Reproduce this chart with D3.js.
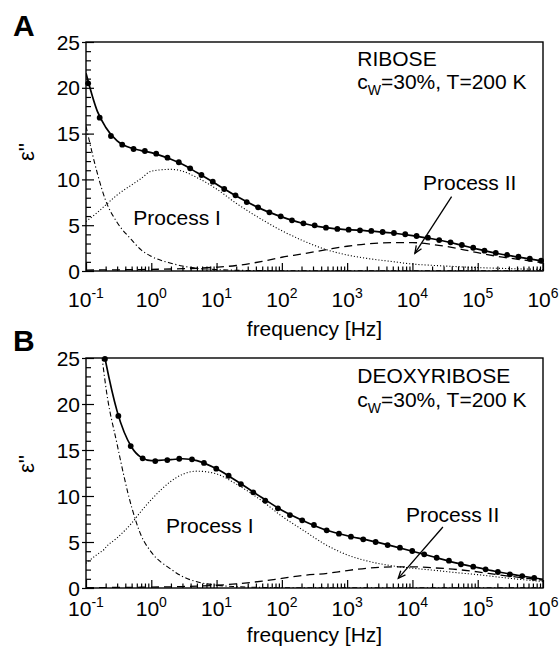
<!DOCTYPE html>
<html>
<head>
<meta charset="utf-8">
<script src="https://cdn.jsdelivr.net/npm/d3@7/dist/d3.min.js"></script>
<style>
  body { margin: 0; background: #fff; }
  text { font-family: "Liberation Sans", Arial, sans-serif; fill: #000; }
</style>
</head>
<body>
<svg id="canvas" width="559" height="654"></svg>
<script>
// ---- values ----

// panel A (ribose)
let gridA = [0.1, 0.15, 0.2, 0.3, 0.5, 0.7, 1, 2, 3, 5, 10, 20, 50, 100, 200, 500, 1e3, 2e3, 5e3, 1e4, 2e4, 5e4, 1e5, 2e5, 5e5, 1e6]
let fitA = [21.6, 17.4, 15.7, 14.2, 13.4, 13.15, 12.93, 12.2, 11.65, 10.75, 9.48, 8.18, 6.73, 5.91, 5.24, 4.7, 4.52, 4.39, 4.15, 3.87, 3.52, 2.91, 2.38, 1.91, 1.43, 1.07]
let condA = [15.8, 10.6, 7.7, 5.3, 3.4, 2.3, 1.6, 0.85, 0.55, 0.3, 0.15, 0.08, 0.04, 0.02, 0.01, 0.01, 0.01, 0.01, 0.01, 0.01, 0.01, 0.01, 0.01, 0.01, 0.01, 0.01]
let procIA = [5.4, 6.4, 7.2, 8.3, 9.4, 10.1, 10.9, 11.1, 10.9, 10.2, 8.95, 7.39, 5.6, 4.4, 3.38, 2.29, 1.75, 1.38, 1.02, 0.76, 0.62, 0.47, 0.37, 0.3, 0.22, 0.17]
let procIIA = [0.1, 0.11, 0.12, 0.13, 0.15, 0.16, 0.18, 0.22, 0.25, 0.3, 0.42, 0.6, 1.05, 1.5, 1.85, 2.35, 2.7, 2.95, 3.1, 3.1, 2.9, 2.45, 2.0, 1.6, 1.2, 0.9]
let dotFreqA = [0.108, 0.162, 0.241, 0.359, 0.535, 0.798, 1.19, 1.77, 2.64, 3.94,
  5.87, 8.75, 13.1, 19.5, 29.0, 43.3, 64.5, 96.1, 143, 214,
  318, 474, 708, 1055, 1573, 2344, 3493, 5207, 7762, 11580,
  17260, 25700, 38370, 57150, 85310, 127000, 189200, 282500, 420700, 628100, 935400]
let dotValA = [20.49, 16.74, 14.74, 13.79, 13.32, 13.10, 12.81, 12.37, 11.87, 11.21,
  10.48, 9.75, 8.95, 8.26, 7.53, 6.95, 6.41, 5.97, 5.53, 5.21,
  4.99, 4.73, 4.59, 4.51, 4.44, 4.37, 4.26, 4.15, 4.01, 3.82,
  3.64, 3.38, 3.13, 2.84, 2.54, 2.22, 1.97, 1.75, 1.56, 1.34, 1.12]

// panel B (deoxyribose)
let gridB = [0.1, 0.15, 0.175, 0.19, 0.2, 0.3, 0.5, 0.7, 1, 2, 3, 5, 10, 20, 50, 100, 200, 500, 1e3, 2e3, 5e3, 1e4, 2e4, 5e4, 1e5, 2e5, 5e5, 1e6]
let fitB = [null, null, null, 25.4, 24.6, 19.2, 15.3, 14.2, 13.85, 13.95, 14.05, 13.85, 12.95, 11.65, 9.8, 8.45, 7.4, 6.25, 5.68, 5.23, 4.55, 4.0, 3.42, 2.67, 2.22, 1.77, 1.28, 0.95]
let condB = [null, null, 25.2, 23.2, 22.0, 15.6, 8.8, 5.7, 3.9, 2.05, 1.25, 0.68, 0.3, 0.15, 0.06, 0.03, 0.02, 0.01, 0.01, 0.01, 0.01, 0.01, 0.01, 0.01, 0.01, 0.01, 0.01, 0.01]
let procIB = [2.68, 3.67, 4.0, 4.2, 4.4, 5.45, 7.05, 8.35, 9.6, 11.6, 12.35, 12.7, 12.4, 11.3, 9.45, 7.8, 6.4, 4.6, 3.6, 2.95, 2.4, 2.15, 1.95, 1.65, 1.45, 1.2, 0.9, 0.7]
let procIIB = [0.05, 0.05, 0.05, 0.05, 0.05, 0.06, 0.07, 0.08, 0.1, 0.13, 0.16, 0.2, 0.3, 0.45, 0.75, 1.05, 1.35, 1.6, 1.9, 2.15, 2.3, 2.3, 2.2, 2.0, 1.75, 1.45, 1.1, 0.85]
let dotFreqB = [0.195, 0.313, 0.484, 0.738, 1.15, 1.76, 2.68, 4.2, 6.41, 9.89,
  15.3, 23.6, 36.5, 55.7, 87.1, 133, 205, 310, 486, 749,
  1143, 1765, 2731, 4169, 6438, 9935, 15170, 23500, 36250, 55340,
  85370, 132100, 203700, 311300, 480100, 733100]
let dotValB = [24.9, 18.7, 15.43, 14.09, 13.8, 13.91, 14.05, 13.99, 13.59, 12.97,
  12.2, 11.3, 10.4, 9.49, 8.66, 7.93, 7.36, 6.85, 6.27, 5.9,
  5.58, 5.29, 5.0, 4.67, 4.38, 4.02, 3.66, 3.29, 2.97, 2.58,
  2.32, 2.03, 1.74, 1.49, 1.3, 1.09]

let yTicks = [0, 5, 10, 15, 20, 25]
let xLabels = ['-1', '0', '1', '2', '3', '4', '5', '6']

// layout of the two panels (pixels)
let panels = [
  { id: 'A', sample: 'RIBOSE', top: 42, bottom: 271, tickBase: 307, titleBase: 336, yLabelY: 152,
    grid: gridA, fit: fitA, cond: condA, p1: procIA, p2: procIIA, dotF: dotFreqA, dotV: dotValA,
    // annotation anchors in data units [frequency, eps'']
    textAt: [1430, 22.4], text2At: [1430, 19.84], p1At: [0.53, 5.02], p2At: [14500, 8.84],
    arrow: [[39800, 8.11], [10900, 1.93]], letterBase: 36 },
  { id: 'B', sample: 'DEOXYRIBOSE', top: 358, bottom: 588, tickBase: 616, titleBase: 642, yLabelY: 464,
    grid: gridB, fit: fitB, cond: condB, p1: procIB, p2: procIIB, dotF: dotFreqB, dotV: dotValB,
    textAt: [1430, 22.25], text2At: [1430, 19.64], p1At: [1.68, 5.95], p2At: [7940, 7.21],
    arrow: [[29300, 6.63], [6070, 1.05]], letterBase: 351 }
]

let left = 86, right = 543
let canvas = d3.select('#canvas')

let drawPanel = (p) => {
  let x = d3.scaleLog().domain([0.1, 1e6]).range([left, right])
  let y = d3.scaleLinear().domain([0, 25]).range([p.bottom, p.top])
  let g = canvas.append('g')

  // clip to plot area
  g.append('clipPath').attr('id', 'clip' + p.id)
    .append('rect').attr('x', left).attr('y', p.top)
    .attr('width', right - left).attr('height', p.bottom - p.top)

  let allTicks = x.ticks()
  let isDecade = (d) => Math.abs(Math.log10(d) - Math.round(Math.log10(d))) < 1e-6
  let decades = allTicks.filter(isDecade)
  let minors = allTicks.filter(d => !isDecade(d))

  // x ticks (inside, at bottom)
  let xMajor = g.append('g').attr('transform', 'translate(0,' + p.bottom + ')')
    .call(d3.axisBottom(x).tickValues(decades).tickSize(-8).tickFormat(''))
  let xMinor = g.append('g').attr('transform', 'translate(0,' + p.bottom + ')')
    .call(d3.axisBottom(x).tickValues(minors).tickSize(-4.5).tickFormat(''))

  // y ticks: minor inside, major through the axis
  let yMinorVals = d3.range(0, 26).filter(v => v % 5 !== 0)
  let yMinor = g.append('g').attr('transform', 'translate(' + left + ',0)')
    .call(d3.axisLeft(y).tickValues(yMinorVals).tickSize(-5).tickFormat(''))
  let yMajorIn = g.append('g').attr('transform', 'translate(' + left + ',0)')
    .call(d3.axisLeft(y).tickValues(yTicks).tickSize(-8).tickFormat(''))
  let yMajorOut = g.append('g').attr('transform', 'translate(' + left + ',0)')
    .call(d3.axisLeft(y).tickValues(yTicks).tickSize(4).tickPadding(2))

  ;[xMajor, xMinor, yMinor, yMajorIn, yMajorOut].forEach(a => {
    a.select('.domain').remove()
    a.selectAll('line').attr('stroke', '#000').attr('stroke-width', 1.2)
  })
  yMajorOut.selectAll('text')
    .attr('font-family', '"Liberation Sans", Arial, sans-serif')
    .attr('font-size', 21).attr('fill', '#000').attr('dy', '0.34em')

  // x tick labels 10^n
  let labels = g.append('g').selectAll('text').data(decades).enter().append('text')
    .attr('x', (d) => x(d)).attr('y', p.tickBase)
    .attr('text-anchor', 'middle').attr('font-size', 21)
  labels.append('tspan').text('10')
  labels.append('tspan').attr('font-size', 14).attr('dy', -9)
    .text((d, i) => xLabels[i])

  // curves
  let line = d3.line()
    .defined(d => d[1] != null)
    .x(d => x(d[0])).y(d => y(d[1]))
    .curve(d3.curveMonotoneX)
  let pairs = (vals) => p.grid.map((f, i) => [f, vals[i]])
  let curves = g.append('g').attr('clip-path', 'url(#clip' + p.id + ')')

  curves.append('path').attr('d', line(pairs(p.cond)))
    .attr('fill', 'none').attr('stroke', '#000').attr('stroke-width', 1.1)
    .attr('stroke-dasharray', '5,2.5,1.2,2.5')
  curves.append('path').attr('d', line(pairs(p.p1)))
    .attr('fill', 'none').attr('stroke', '#000').attr('stroke-width', 1.1)
    .attr('stroke-dasharray', '1.1,2')
  curves.append('path').attr('d', line(pairs(p.p2)))
    .attr('fill', 'none').attr('stroke', '#000').attr('stroke-width', 1.3)
    .attr('stroke-dasharray', '8,5')
  curves.append('path').attr('d', line(pairs(p.fit)))
    .attr('fill', 'none').attr('stroke', '#000').attr('stroke-width', 1.7)

  // measured points
  g.append('g').selectAll('circle').data(p.dotF).enter().append('circle')
    .attr('cx', (d) => x(d)).attr('cy', (d, i) => y(p.dotV[i]))
    .attr('r', 2.9).attr('fill', '#000')

  // frame
  g.append('rect').attr('x', left).attr('y', p.top)
    .attr('width', right - left).attr('height', p.bottom - p.top)
    .attr('fill', 'none').attr('stroke', '#000').attr('stroke-width', 1.4)

  // annotations
  g.append('text').attr('x', x(p.textAt[0])).attr('y', y(p.textAt[1]))
    .attr('font-size', 21).text(p.sample)
  let t2 = g.append('text').attr('x', x(p.text2At[0])).attr('y', y(p.text2At[1]))
    .attr('font-size', 21)
  t2.append('tspan').text('c')
  t2.append('tspan').attr('font-size', 14).attr('dy', 6).text('W')
  t2.append('tspan').attr('dy', -6).text('=30%, T=200 K')

  g.append('text').attr('x', x(p.p1At[0])).attr('y', y(p.p1At[1]))
    .attr('font-size', 21).text('Process I')
  g.append('text').attr('x', x(p.p2At[0])).attr('y', y(p.p2At[1]))
    .attr('font-size', 21).text('Process II')

  // arrow to process II
  let ax0 = x(p.arrow[0][0]), ay0 = y(p.arrow[0][1])
  let ax1 = x(p.arrow[1][0]), ay1 = y(p.arrow[1][1])
  g.append('line').attr('x1', ax0).attr('y1', ay0).attr('x2', ax1).attr('y2', ay1)
    .attr('stroke', '#000').attr('stroke-width', 1.3)
  let ang = Math.atan2(ay1 - ay0, ax1 - ax0)
  let headLen = 8, spread = 0.4
  let head = [
    [ax1 - headLen * Math.cos(ang - spread), ay1 - headLen * Math.sin(ang - spread)],
    [ax1, ay1],
    [ax1 - headLen * Math.cos(ang + spread), ay1 - headLen * Math.sin(ang + spread)]
  ]
  g.append('path').attr('d', d3.line()(head))
    .attr('fill', 'none').attr('stroke', '#000').attr('stroke-width', 1.3)

  // axis titles
  g.append('text').attr('x', (left + right) / 2).attr('y', p.titleBase)
    .attr('text-anchor', 'middle').attr('font-size', 21).text('frequency [Hz]')
  g.append('text').attr('transform', 'translate(34,' + p.yLabelY + ') rotate(-90)')
    .attr('text-anchor', 'middle').attr('font-size', 22).text("ε''")

  // panel letter
  g.append('text').attr('x', 13).attr('y', p.letterBase)
    .attr('font-size', 30).attr('font-weight', 'bold').text(p.id)
}

panels.forEach(drawPanel)
</script>
</body>
</html>
